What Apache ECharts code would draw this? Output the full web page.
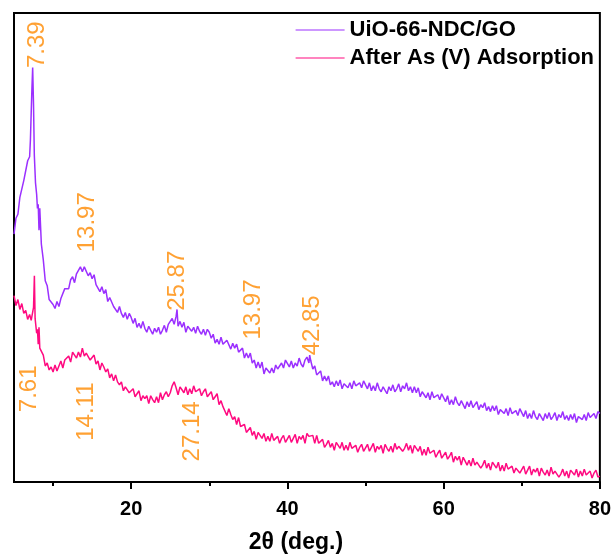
<!DOCTYPE html>
<html>
<head>
<meta charset="utf-8">
<script src="https://cdn.jsdelivr.net/npm/echarts@6/dist/echarts.min.js"></script>
<style>html,body{margin:0;padding:0;background:#fff}#c{width:614px;height:559px}</style>
</head>
<body>
<div id="c"></div>
<script>
// ---- data (2θ in degrees, intensity in arbitrary units) ----
const seriesNames = ['UiO-66-NDC/GO', 'After As (V) Adsorption'];

const uioX = [5.0,5.25,5.5,5.75,6.0,6.25,6.5,6.75,7.0,7.1,7.2,7.3,7.39,7.5,7.6,7.75,7.9,8.0,8.1,8.2,8.3,8.5,8.75,9.0,9.25,9.5,9.75,
10,10.25,10.5,10.75,11,11.25,11.5,11.75,12,12.25,12.5,12.75,13,13.25,13.5,13.75,14,14.25,14.5,14.75,15,15.25,15.5,15.75,16,16.25,16.5,16.75,17,17.25,17.5,17.75,18,18.25,18.5,18.75,19,19.25,19.5,19.75,
20,20.25,20.5,20.75,21,21.25,21.5,21.75,22,22.25,22.5,22.75,23,23.25,23.5,23.75,24,24.25,24.5,24.75,25,25.25,25.5,25.75,25.87,26,26.25,26.5,26.75,27,27.25,27.5,27.75,28,28.25,28.5,28.75,29,29.25,29.5,29.75,
30,30.25,30.5,30.75,31,31.25,31.5,31.75,32,32.25,32.5,32.75,33,33.25,33.5,33.75,34,34.25,34.5,34.75,35,35.25,35.5,35.75,36,36.25,36.5,36.75,37,37.25,37.5,37.75,38,38.25,38.5,38.75,39,39.25,39.5,39.75,
40,40.25,40.5,40.75,41,41.25,41.5,41.75,42,42.25,42.5,42.75,42.85,43,43.25,43.5,43.75,44,44.25,44.5,44.75,45,45.25,45.5,45.75,46,46.25,46.5,46.75,47,47.25,47.5,47.75,48,48.25,48.5,48.75,49,49.25,49.5,49.75,
50,50.25,50.5,50.75,51,51.25,51.5,51.75,52,52.25,52.5,52.75,53,53.25,53.5,53.75,54,54.25,54.5,54.75,55,55.25,55.5,55.75,56,56.25,56.5,56.75,57,57.25,57.5,57.75,58,58.25,58.5,58.75,59,59.25,59.5,59.75,
60,60.25,60.5,60.75,61,61.25,61.5,61.75,62,62.25,62.5,62.75,63,63.25,63.5,63.75,64,64.25,64.5,64.75,65,65.25,65.5,65.75,66,66.25,66.5,66.75,67,67.25,67.5,67.75,68,68.25,68.5,68.75,69,69.25,69.5,69.75,
70,70.25,70.5,70.75,71,71.25,71.5,71.75,72,72.25,72.5,72.75,73,73.25,73.5,73.75,74,74.25,74.5,74.75,75,75.25,75.5,75.75,76,76.25,76.5,76.75,77,77.25,77.5,77.75,78,78.25,78.5,78.75,79,79.25,79.5,79.75,80];
const uioY = [250,266,270,287,286,304,306,324,328,345,372,398,418,380,330,302,290,276,280,254,276,240,224,203,198,184,184,
179,175,182,177,185,184,195,194,195,204,207,201,210,209,217,212,217,219,208,211,205,209,199,200,192,197,190,194,182,186,185,177,179,171,177,170,166,171,164,170,
166,160,165,156,160,155,162,155,151,157,157,149,155,151,156,149,153,158,151,159,157,165,159,167,174,157,162,156,161,151,157,158,152,156,150,157,152,149,154,148,154,
151,145,149,140,144,139,146,139,138,143,143,134,140,135,139,131,132,135,125,130,125,130,120,123,115,121,115,121,109,115,116,110,115,110,118,114,113,120,115,123,
121,116,122,115,120,117,125,119,116,123,126,120,128,122,114,117,108,109,112,102,107,102,107,98,101,96,102,97,103,94,99,101,95,100,94,102,97,95,100,95,102,
100,94,100,92,97,92,100,94,91,96,97,89,96,92,98,91,94,99,91,97,94,100,92,96,90,96,90,95,86,91,92,85,90,83,91,85,83,88,83,89,
87,81,87,78,83,78,86,80,77,82,83,74,81,76,82,75,78,81,73,78,75,80,72,76,71,77,72,77,68,73,75,69,74,67,75,69,67,72,67,74,
72,66,72,64,69,64,72,66,63,69,70,62,69,64,70,63,66,70,62,68,65,71,63,67,62,68,63,69,60,66,68,63,68,62,70,65,63,69,64,71,69];

const asX = [5.0,5.25,5.5,5.75,6.0,6.25,6.5,6.75,7.0,7.2,7.5,7.61,7.7,7.9,8.0,8.1,8.2,8.3,8.5,8.75,9.0,9.25,9.5,9.75,
10,10.25,10.5,10.75,11,11.25,11.5,11.75,12,12.25,12.5,12.75,13,13.25,13.5,13.75,14,14.25,14.5,14.75,15,15.25,15.5,15.75,16,16.25,16.5,16.75,17,17.25,17.5,17.75,18,18.25,18.5,18.75,19,19.25,19.5,19.75,
20,20.25,20.5,20.75,21,21.25,21.5,21.75,22,22.25,22.5,22.75,23,23.25,23.5,23.75,24,24.25,24.5,24.75,25,25.25,25.5,25.75,26,26.25,26.5,26.75,27,27.25,27.5,27.75,28,28.25,28.5,28.75,29,29.25,29.5,29.75,
30,30.25,30.5,30.75,31,31.25,31.5,31.75,32,32.25,32.5,32.75,33,33.25,33.5,33.75,34,34.25,34.5,34.75,35,35.25,35.5,35.75,36,36.25,36.5,36.75,37,37.25,37.5,37.75,38,38.25,38.5,38.75,39,39.25,39.5,39.75,
40,40.25,40.5,40.75,41,41.25,41.5,41.75,42,42.25,42.5,42.75,43,43.25,43.5,43.75,44,44.25,44.5,44.75,45,45.25,45.5,45.75,46,46.25,46.5,46.75,47,47.25,47.5,47.75,48,48.25,48.5,48.75,49,49.25,49.5,49.75,
50,50.25,50.5,50.75,51,51.25,51.5,51.75,52,52.25,52.5,52.75,53,53.25,53.5,53.75,54,54.25,54.5,54.75,55,55.25,55.5,55.75,56,56.25,56.5,56.75,57,57.25,57.5,57.75,58,58.25,58.5,58.75,59,59.25,59.5,59.75,
60,60.25,60.5,60.75,61,61.25,61.5,61.75,62,62.25,62.5,62.75,63,63.25,63.5,63.75,64,64.25,64.5,64.75,65,65.25,65.5,65.75,66,66.25,66.5,66.75,67,67.25,67.5,67.75,68,68.25,68.5,68.75,69,69.25,69.5,69.75,
70,70.25,70.5,70.75,71,71.25,71.5,71.75,72,72.25,72.5,72.75,73,73.25,73.5,73.75,74,74.25,74.5,74.75,75,75.25,75.5,75.75,76,76.25,76.5,76.75,77,77.25,77.5,77.75,78,78.25,78.5,78.75,79,79.25,79.5,79.75,80];
const asY = [188,178,184,174,180,170,173,164,169,163,176,208,165,150,154,139,156,135,133,128,117,120,113,116,
111,118,112,117,122,115,123,122,127,121,131,128,125,131,126,135,127,130,131,123,124,128,119,122,113,120,116,111,114,105,109,102,108,101,98,101,92,96,98,90,
89,94,86,89,92,82,87,84,87,79,87,83,80,86,80,90,83,88,91,86,90,97,101,95,88,96,93,90,96,88,94,89,97,91,89,94,87,91,94,86,
86,91,83,86,89,78,82,76,78,67,74,68,63,66,58,65,56,58,58,50,52,55,47,51,43,50,47,44,49,41,46,41,49,42,41,46,39,44,47,40,
41,47,40,44,48,39,46,43,47,39,49,46,45,47,39,47,39,41,43,35,38,42,35,39,32,40,37,34,40,32,37,32,40,34,33,37,30,35,38,31,
32,38,31,35,39,30,36,33,37,29,38,34,31,36,30,39,33,36,38,31,34,39,32,37,29,37,34,31,36,27,33,27,35,29,27,32,25,29,32,24,
25,30,23,26,30,20,26,22,26,17,25,21,17,22,16,24,17,20,21,14,17,22,14,19,12,20,17,14,20,11,17,11,19,13,11,16,9,14,16,9,
10,16,8,12,16,7,13,10,14,6,14,10,7,12,6,15,8,11,13,5,8,13,6,11,4,12,10,7,13,5,11,6,13,7,6,11,4,9,12,5,6];

// peak annotations (label text, label centre position in data units)
const annoText = ['7.39','13.97','25.87','13.97','42.85','7.61','14.11','27.14'];
const annoX    = [7.94, 14.38, 25.87, 35.70, 43.24, 6.98, 14.26, 27.79];
const annoY    = [441, 262, 203, 174, 158, 94, 71, 51];

const xMajorTicks = [20, 40, 60, 80];
const xMinorTicks = [10, 30, 50, 70];

// ---- chart ----
const FONT = "'Liberation Sans', Arial, sans-serif";
const chart = echarts.init(document.getElementById('c'), null, {renderer: 'canvas'});
const zip = (xs, ys) => xs.map((x, i) => [x, ys[i]]);

chart.setOption({
  animation: false,
  backgroundColor: '#fff',
  grid: {left: 14, right: 12, top: 13, bottom: 73, show: true, borderColor: '#000', borderWidth: 2, backgroundColor: 'transparent'},
  legend: {
    left: 290, top: 14, orient: 'vertical', itemWidth: 49, itemHeight: 14, itemGap: 6,
    data: seriesNames,
    itemStyle: {opacity: 0, borderWidth: 0},
    lineStyle: {width: 1.2},
    textStyle: {fontFamily: FONT, fontWeight: 'bold', fontSize: 22, color: '#000', lineHeight: 22}
  },
  xAxis: [{
    type: 'value', min: 5, max: 80,
    name: '2θ (deg.)', nameLocation: 'middle', nameGap: 49,
    nameTextStyle: {fontFamily: FONT, fontWeight: 'bold', fontSize: 23, color: '#000', padding: [0, 22, 0, 0]},
    axisLine: {show: true, onZero: false, lineStyle: {color: '#000', width: 2}},
    axisTick: {show: true, inside: false, length: 7, customValues: xMajorTicks, lineStyle: {color: '#000', width: 2}},
    axisLabel: {show: true, customValues: xMajorTicks, margin: 17, fontFamily: FONT, fontWeight: 'bold', fontSize: 20, color: '#000'},
    splitLine: {show: false}
  }, {
    type: 'value', min: 5, max: 80, position: 'bottom', offset: 0,
    axisLine: {show: false},
    axisTick: {show: true, inside: false, length: 4, customValues: xMinorTicks, lineStyle: {color: '#000', width: 2}},
    axisLabel: {show: false},
    splitLine: {show: false}
  }],
  yAxis: {
    type: 'value', min: 0, max: 473,
    axisLine: {show: true, onZero: false, lineStyle: {color: '#000', width: 2}},
    axisTick: {show: false}, axisLabel: {show: false}, splitLine: {show: false}
  },
  series: [{
    name: seriesNames[0], type: 'line', data: zip(uioX, uioY), symbol: 'none',
    lineStyle: {color: '#9B30FF', width: 1.5}, itemStyle: {color: '#9B30FF'}, z: 3
  }, {
    name: seriesNames[1], type: 'line', data: zip(asX, asY), symbol: 'none',
    lineStyle: {color: '#FF0A80', width: 1.5}, itemStyle: {color: '#FF0A80'}, z: 2
  }, {
    type: 'scatter', symbolSize: 0, silent: true, z: 5,
    data: annoX.map((x, i) => ({value: [x, annoY[i]], name: annoText[i]})),
    label: {
      show: true, position: 'inside', rotate: 90, formatter: p => p.name,
      fontFamily: FONT, fontSize: 24, color: '#FF8A00'
    }
  }]
});
</script>
</body>
</html>
